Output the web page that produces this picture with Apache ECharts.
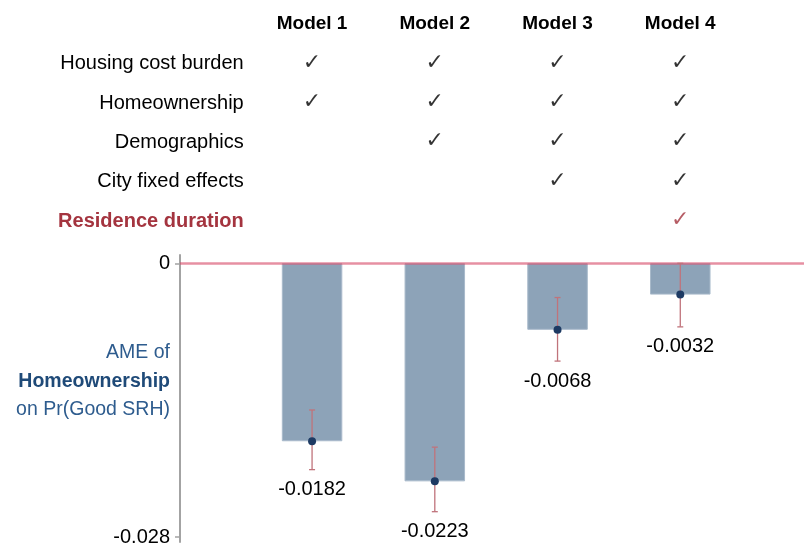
<!DOCTYPE html>
<html>
<head>
  <meta charset="utf-8">
  <title>AME of Homeownership</title>
  <script src="https://fastly.jsdelivr.net/npm/echarts@6/dist/echarts.min.js"></script>
</head>
<body style="margin:0">
<div id="chart-container" style="width:804px;height:549px;"></div>
<script type="text/javascript">
  var models = ['Model 1', 'Model 2', 'Model 3', 'Model 4'];
  var controls = ['Housing cost burden', 'Homeownership', 'Demographics', 'City fixed effects', 'Residence duration'];
  // 1 = control included in that model
  var included = [
    [1, 1, 1, 1],
    [1, 1, 1, 1],
    [0, 1, 1, 1],
    [0, 0, 1, 1],
    [0, 0, 0, 1]
  ];
  var ame = [-0.0182, -0.0223, -0.0068, -0.0032];
  var ciLow = [-0.0211, -0.0254, -0.0100, -0.0065];
  var ciHigh = [-0.0150, -0.0188, -0.0035, 0.0000];
  var yTicks = [0, -0.028];

  var font = 'Liberation Sans, Arial, sans-serif';
  var red = '#A4343F';

  var checks = [];
  included.forEach(function (row, r) {
    row.forEach(function (v, m) {
      if (v) {
        checks.push({
          value: [m, r],
          label: { color: r === controls.length - 1 ? red : '#000' }
        });
      }
    });
  });

  var dom = document.getElementById('chart-container');
  var myChart = echarts.init(dom, null, { renderer: 'canvas' });

  var option = {
    animation: false,
    textStyle: { fontFamily: font },
    grid: [
      { left: 250.7, right: 62.4, top: 44.3, height: 196.5 },
      { left: 180, right: 0, top: 255, bottom: 7 }
    ],
    xAxis: [
      {
        gridIndex: 0,
        type: 'category',
        position: 'top',
        data: models,
        axisLine: { show: false },
        axisTick: { show: false },
        axisLabel: { fontSize: 19, fontWeight: 'bold', color: '#000', margin: 11, fontFamily: font }
      },
      {
        gridIndex: 1,
        type: 'value',
        min: -0.076,
        max: 5.008,
        show: false
      }
    ],
    yAxis: [
      {
        gridIndex: 0,
        type: 'category',
        inverse: true,
        data: controls.map(function (c, i) {
          return i === controls.length - 1
            ? { value: c, textStyle: { color: red, fontWeight: 'bold' } }
            : c;
        }),
        axisLine: { show: false },
        axisTick: { show: false },
        axisLabel: { fontSize: 20, color: '#000', margin: 7, fontFamily: font }
      },
      {
        gridIndex: 1,
        type: 'value',
        min: -0.0285,
        max: 0.00085,
        axisLine: { show: true, onZero: false, lineStyle: { color: '#A3A3A3', width: 2 } },
        axisTick: { show: true, customValues: yTicks, length: 5, lineStyle: { color: '#A3A3A3', width: 1.5 } },
        axisLabel: {
          customValues: yTicks,
          fontSize: 20,
          color: '#000',
          margin: 10,
          fontFamily: font,
          formatter: function (v) { return v === 0 ? '0' : String(v); }
        },
        splitLine: { show: false }
      }
    ],
    graphic: [
      {
        type: 'text',
        x: 170,
        y: 338.5,
        style: {
          text: 'AME of\n{b|Homeownership}\non Pr(Good SRH)',
          textAlign: 'right',
          textVerticalAlign: 'top',
          font: '19.5px ' + font,
          fill: '#2E5C8E',
          lineHeight: 28.5,
          rich: {
            b: { fontWeight: 'bold', fontSize: 19.5, fill: '#1F4A78', lineHeight: 28.5, fontFamily: font }
          }
        }
      }
    ],
    series: [
      {
        type: 'scatter',
        xAxisIndex: 0,
        yAxisIndex: 0,
        symbolSize: 0,
        silent: true,
        label: {
          show: true,
          position: 'inside',
          formatter: '\u2713',
          fontSize: 22,
          fontFamily: 'DejaVu Sans',
          offset: [0, -1]
        },
        data: checks
      },
      {
        type: 'bar',
        xAxisIndex: 1,
        yAxisIndex: 1,
        barWidth: 60.5,
        itemStyle: { color: '#8DA3B8', borderColor: '#A9BACB', borderWidth: 1 },
        data: ame.map(function (v, i) { return [i + 1, v]; }),
        markLine: {
          silent: true,
          symbol: 'none',
          label: { show: false },
          lineStyle: { color: 'rgba(214,70,100,0.6)', width: 2.5, type: 'solid' },
          data: [{ yAxis: 0 }]
        }
      },
      {
        type: 'custom',
        xAxisIndex: 1,
        yAxisIndex: 1,
        z: 5,
        data: ame.map(function (v, i) { return [i + 1, ciLow[i], ciHigh[i], v]; }),
        renderItem: function (params, api) {
          var x = api.value(0);
          var lo = api.coord([x, api.value(1)]);
          var hi = api.coord([x, api.value(2)]);
          var mid = api.coord([x, api.value(3)]);
          var ls = { stroke: '#C0737B', lineWidth: 1.3 };
          var cap = 3;
          return {
            type: 'group',
            children: [
              { type: 'line', shape: { x1: lo[0], y1: lo[1], x2: hi[0], y2: hi[1] }, style: ls },
              { type: 'line', shape: { x1: lo[0] - cap, y1: lo[1], x2: lo[0] + cap, y2: lo[1] }, style: ls },
              { type: 'line', shape: { x1: hi[0] - cap, y1: hi[1], x2: hi[0] + cap, y2: hi[1] }, style: ls },
              { type: 'circle', shape: { cx: mid[0], cy: mid[1], r: 4 }, style: { fill: '#1D3A63' } },
              {
                type: 'text',
                x: lo[0],
                y: lo[1] + 20,
                style: {
                  text: api.value(3).toFixed(4),
                  textAlign: 'center',
                  textVerticalAlign: 'middle',
                  font: '20px ' + font,
                  fill: '#000'
                }
              }
            ]
          };
        }
      }
    ]
  };

  myChart.setOption(option);
  window.addEventListener('resize', myChart.resize);
</script>
</body>
</html>
